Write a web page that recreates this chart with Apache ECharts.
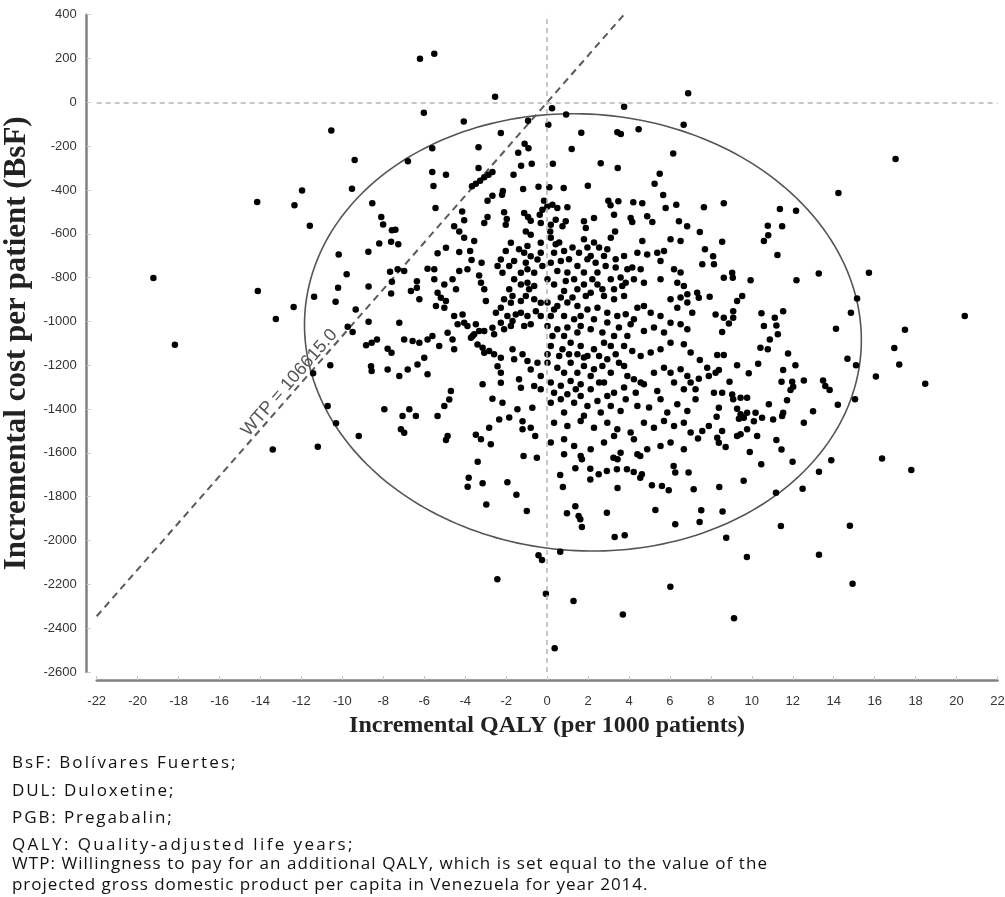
<!DOCTYPE html>
<html>
<head>
<meta charset="utf-8">
<script src="https://cdn.jsdelivr.net/npm/echarts@6/dist/echarts.min.js"></script>
<style>
  html, body { margin: 0; padding: 0; background: #fff; }
  #chart { position: absolute; left: 0; top: 0; width: 1005px; height: 897px; }
  .note { position: absolute; left: 12px; font-family: "Open Sans", sans-serif; font-size: 17px; color: #111; white-space: nowrap; line-height: 20px; }
</style>
</head>
<body>
<div id="chart"></div>
<div class="note" style="top:752px; letter-spacing:2.1px">BsF: Bolívares Fuertes;</div>
<div class="note" style="top:780px; letter-spacing:1.9px">DUL: Duloxetine;</div>
<div class="note" style="top:807px; letter-spacing:1.9px">PGB: Pregabalin;</div>
<div class="note" style="top:834px; letter-spacing:2.4px">QALY: Quality-adjusted life years;</div>
<div class="note" style="top:853px; letter-spacing:1.05px">WTP: Willingness to pay for an additional QALY, which is set equal to the value of the</div>
<div class="note" style="top:874px; letter-spacing:0.95px">projected gross domestic product per capita in Venezuela for year 2014.</div>
<script>
// ---- data: [incremental QALY per 1000 patients, incremental cost per patient (BsF)] ----
const pointsTopLeft = [[-10.54,-128],[-9.4,-263],[-9.53,-394],[-11.97,-402],[-14.16,-455],[-12.34,-470],[-11.59,-563],[-8.54,-461],[-8.1,-523],[-8.01,-557],[-7.58,-584]];
const pointsTopCenter = [[-6.21,199],[-5.51,222],[-2.54,26],[6.89,42],[-6.02,-47],[0.24,-27],[0.93,-55],[3.76,-20],[-4.07,-88],[-0.93,-84],[0.06,-102],[-2.26,-140],[1.67,-139],[3.43,-136],[3.6,-145],[4.47,-123],[6.67,-102],[-5.61,-210],[-3.35,-205],[-1.1,-189],[-0.91,-210],[-1.41,-230],[1.2,-213],[6.16,-233],[-6.8,-269],[-1.27,-289],[-0.75,-280],[0.28,-280],[2.62,-278],[3.45,-300],[-5.61,-318],[-4.94,-330],[-3.35,-300],[-2.67,-318],[-2.86,-330],[-3.07,-342],[-3.27,-358],[-3.48,-372],[-3.67,-383],[-1.64,-330],[5.5,-326],[-5.55,-382],[-1.17,-396],[-0.42,-385],[0.11,-388],[0.81,-391],[1.99,-381],[5.25,-372],[-2.16,-405],[-2.2,-422],[-2.67,-426],[-2.91,-449],[5.67,-423],[-5.45,-482],[-4.15,-498],[-0.15,-449],[0.01,-475],[0.26,-467],[0.5,-482],[-0.23,-490],[0.99,-479],[2.99,-449],[3.1,-470],[3.48,-452],[4.21,-456],[4.65,-460],[5.79,-482],[6.31,-467],[-4.05,-538],[-4.54,-566],[-4.29,-589],[-2.91,-523],[-3.07,-551],[-2.1,-502],[-1.97,-533],[-2.02,-559],[-1.12,-505],[-0.93,-523],[-0.8,-540],[-1.04,-589],[-0.8,-604],[-0.36,-513],[-0.31,-551],[0.18,-559],[0.42,-536],[0.15,-589],[0.75,-566],[0.91,-543],[1.8,-543],[1.89,-574],[2.29,-528],[3.27,-513],[3.32,-589],[4.08,-528],[4.16,-546],[4.89,-520],[5.14,-546],[6.44,-543],[6.84,-566],[-7.41,-581]];
const pointsTopRight = [[17.02,-259],[14.23,-414],[7.66,-479],[8.63,-460],[11.37,-487],[12.16,-495],[10.78,-563],[11.48,-566],[7.46,-592],[10.8,-607]];
const pointsMidLeft = [[-19.23,-802],[-18.18,-1106],[-14.13,-861],[-13.25,-989],[-12.38,-934],[-11.38,-887],[-10.18,-694],[-9.79,-785],[-10.21,-846],[-10.33,-910],[-9.35,-945],[-8.73,-682],[-8.2,-644],[-7.62,-636],[-8.72,-840],[-7.67,-773],[-7.58,-819],[-7.62,-872],[-8.72,-1001],[-9.74,-1024],[-9.5,-1048],[-8.84,-1109],[-8.57,-1097],[-8.31,-1082],[-7.79,-1125],[-7.6,-1143],[-8.6,-1204],[-8.57,-1226],[-7.79,-1219],[-10.59,-1200],[-11.43,-1237],[-10.72,-1386],[-10.31,-1465],[-9.2,-1523],[-7.95,-1401],[-13.4,-1584],[-11.2,-1572]];
const pointsCoreLeft = [[-7.27,-648],[-5.35,-689],[-4.94,-664],[-4.29,-683],[-3.76,-679],[-3.56,-633],[-4.05,-618],[-3.69,-720],[-3.2,-732],[-7.3,-762],[-6.98,-770],[-5.84,-760],[-5.51,-762],[-4.29,-770],[-3.89,-762],[-6.36,-816],[-5.51,-808],[-5.02,-831],[-4.62,-808],[-4.45,-853],[-3.32,-790],[-3.23,-823],[-3.07,-853],[-2.99,-907],[-6.65,-861],[-6.36,-846],[-6.24,-899],[-5.35,-869],[-5.19,-892],[-4.94,-907],[-5.43,-930],[-5.02,-937],[-4.54,-975],[-4.13,-968],[-4.05,-1006],[-4.37,-1013],[-3.89,-1021],[-3.48,-1013],[-3.32,-1044],[-3.56,-1059],[-3.72,-1074],[-3.07,-1044],[-2.67,-1029],[-2.59,-1059],[-2.26,-1006],[-2.1,-1036],[-1.77,-1021],[-2.5,-960],[-2.26,-937],[-1.94,-975],[-1.69,-998],[-1.53,-968],[-1.77,-915],[-2.1,-899],[-1.28,-960],[-0.96,-975],[-0.8,-1013],[-1.12,-1021],[-0.55,-953],[-0.31,-975],[-1.28,-907],[-1.04,-884],[-0.63,-899],[-0.31,-915],[-0.88,-853],[-0.63,-838],[-0.96,-823],[-1.28,-831],[-1.69,-884],[-1.85,-853],[-1.61,-808],[-1.28,-778],[-0.96,-762],[-0.63,-778],[-0.23,-747],[-0.47,-717],[-0.8,-702],[-1.12,-686],[-1.37,-671],[-1.77,-641],[-2.02,-679],[-2.26,-717],[-2.42,-747],[-1.85,-747],[-2.18,-778],[-1.61,-724],[-1.04,-732],[-0.31,-686],[-0.31,-641],[-0.96,-656],[-7.22,-1006],[-6.98,-1082],[-6.57,-1089],[-6.24,-1097],[-5.84,-1082],[-5.6,-1067],[-5.27,-1112],[-4.86,-1052],[-4.62,-1082],[-4.54,-1127],[-3.64,-1067],[-3.4,-1105],[-3.15,-1120],[-3.07,-1143],[-2.83,-1135],[-2.59,-1150],[-6.0,-1166],[-6.33,-1196],[-6.81,-1219],[-7.22,-1249],[-5.84,-1241],[-2.26,-1166],[-2.42,-1204],[-2.26,-1234],[-2.26,-1280],[-1.69,-1127],[-1.61,-1173],[-1.2,-1150],[-0.96,-1181],[-1.37,-1264],[-1.28,-1303],[-0.8,-1219],[-0.47,-1188],[-0.31,-1249],[-0.63,-1295],[-0.31,-1310],[-3.15,-1287],[-4.7,-1318],[-4.78,-1356],[-5.02,-1386],[-5.35,-1432],[-4.86,-1523],[-4.94,-1541],[-7.06,-1432],[-6.73,-1401],[-6.41,-1432],[-7.14,-1492],[-6.98,-1508],[-2.67,-1353],[-2.18,-1371],[-1.45,-1401],[-1.85,-1439],[-2.34,-1447],[-1.2,-1455],[-0.8,-1485],[-0.72,-1394],[-1.2,-1492],[-3.48,-1517],[-3.23,-1538],[-2.83,-1485],[-2.75,-1561],[-0.58,-1523]];
const pointsCoreRight = [[0.18,-618],[0.59,-640],[1.80,-625],[2.29,-640],[2.54,-663],[3.11,-618],[4.65,-633],[6.03,-625],[6.52,-633],[0.34,-686],[0.83,-678],[1.56,-686],[2.13,-701],[2.78,-701],[4.41,-686],[4.89,-694],[5.38,-686],[5.71,-678],[0.18,-732],[0.67,-724],[1.07,-716],[1.48,-747],[1.97,-716],[2.37,-732],[2.86,-747],[3.35,-716],[3.35,-754],[4.16,-754],[4.57,-762],[5.54,-724],[6.20,-762],[6.52,-777],[0.50,-770],[0.99,-777],[1.80,-777],[2.46,-777],[0.02,-808],[0.34,-831],[0.91,-815],[1.32,-808],[1.80,-831],[2.21,-808],[2.70,-853],[3.27,-853],[3.59,-800],[3.84,-823],[4.24,-808],[4.73,-823],[5.54,-808],[6.36,-823],[6.68,-838],[0.83,-861],[1.48,-853],[2.13,-869],[2.78,-884],[3.27,-899],[3.76,-884],[6.03,-899],[6.52,-891],[6.85,-876],[0.02,-914],[0.50,-929],[0.99,-914],[1.48,-929],[1.97,-945],[2.46,-937],[2.94,-960],[3.43,-975],[3.84,-967],[4.41,-937],[4.73,-929],[4.24,-990],[5.06,-960],[5.54,-975],[6.36,-937],[6.85,-914],[7.09,-960],[0.18,-975],[0.83,-975],[1.32,-990],[0.02,-1021],[0.50,-1036],[0.99,-1028],[1.64,-1021],[2.13,-1036],[2.70,-1051],[3.27,-1066],[4.08,-1013],[4.73,-1044],[5.22,-1028],[5.71,-1051],[6.03,-1006],[6.52,-1013],[6.85,-1036],[0.26,-1066],[0.83,-1066],[1.48,-1051],[0.18,-1112],[0.75,-1127],[1.15,-1097],[1.64,-1112],[2.29,-1127],[2.78,-1097],[3.35,-1150],[3.76,-1112],[4.16,-1135],[4.57,-1158],[5.06,-1142],[5.54,-1127],[6.03,-1097],[6.68,-1104],[7.01,-1142],[0.02,-1150],[1.48,-1150],[1.97,-1158],[0.02,-1188],[0.50,-1211],[1.15,-1188],[1.80,-1203],[2.29,-1218],[2.70,-1203],[3.11,-1234],[3.76,-1203],[4.24,-1264],[4.57,-1279],[5.22,-1234],[5.71,-1211],[6.03,-1234],[6.52,-1218],[6.85,-1249],[0.83,-1234],[1.48,-1234],[2.13,-1249],[0.18,-1279],[0.67,-1294],[1.15,-1272],[1.64,-1287],[2.13,-1310],[2.78,-1279],[3.27,-1325],[3.76,-1302],[4.33,-1325],[4.73,-1287],[5.38,-1317],[6.20,-1279],[6.68,-1310],[7.01,-1279],[0.34,-1325],[0.99,-1332],[1.64,-1340],[0.18,-1371],[0.67,-1355],[1.32,-1371],[1.97,-1386],[2.46,-1363],[3.11,-1386],[3.59,-1409],[4.41,-1386],[4.98,-1393],[5.54,-1355],[5.87,-1416],[6.36,-1378],[6.85,-1409],[0.83,-1416],[1.80,-1431],[2.62,-1416],[0.34,-1462],[0.99,-1477],[1.64,-1454],[2.29,-1485],[2.94,-1462],[3.43,-1492],[4.08,-1507],[4.73,-1462],[5.22,-1485],[5.71,-1454],[6.20,-1477],[6.68,-1462],[7.01,-1507],[0.18,-1553],[0.83,-1538],[1.32,-1568],[2.13,-1583],[2.78,-1553],[3.27,-1523],[4.24,-1538],[4.89,-1583],[5.54,-1568],[6.03,-1553],[6.68,-1583],[0.83,-1606],[1.64,-1614],[3.59,-1599],[4.41,-1606],[0.42,-648],[1.24,-663],[1.97,-663],[2.94,-671],[3.76,-701],[3.92,-762],[3.67,-838],[3.11,-808],[2.46,-831],[1.89,-884],[1.24,-891],[0.67,-891],[0.34,-945],[1.64,-975],[2.29,-990],[2.94,-1005],[3.51,-1028],[3.92,-1066],[3.11,-1112],[2.54,-1158],[1.80,-1165],[1.07,-1150],[0.59,-1158],[2.94,-1173],[3.51,-1188],[3.92,-1249],[2.54,-1279],[1.40,-1310],[2.94,-1340],[3.84,-1355]];
const pointsMidRight = [[8.55,-636],[10.59,-633],[7.71,-671],[8.11,-702],[7.58,-739],[8.15,-739],[11.25,-697],[13.27,-781],[15.72,-778],[12.18,-812],[8.63,-801],[9.04,-778],[9.07,-801],[9.94,-812],[7.33,-869],[7.41,-892],[7.94,-887],[9.28,-907],[9.53,-884],[15.14,-895],[8.23,-968],[8.63,-983],[8.88,-1009],[9.09,-953],[9.09,-983],[8.55,-1048],[10.47,-963],[11.12,-983],[11.53,-953],[10.59,-1021],[11.2,-1018],[11.27,-1059],[10.88,-1082],[10.42,-1120],[10.78,-1127],[14.84,-960],[14.11,-1033],[17.48,-1038],[20.4,-975],[16.96,-1121],[17.2,-1196],[18.47,-1284],[16.06,-1251],[14.67,-1170],[15.09,-1200],[15.04,-1355],[14.2,-1380],[11.77,-1146],[12.13,-1200],[11.53,-1222],[12.54,-1269],[11.45,-1275],[11.97,-1275],[12.02,-1298],[11.89,-1313],[13.48,-1269],[13.59,-1295],[13.8,-1313],[11.72,-1360],[10.83,-1378],[12.99,-1410],[12.54,-1462],[11.53,-1417],[11.48,-1432],[11.04,-1447],[10.31,-1193],[9.85,-1237],[9.28,-1200],[8.91,-1275],[8.31,-1153],[8.63,-1153],[7.46,-1176],[7.82,-1211],[7.9,-1249],[8.23,-1234],[8.39,-1222],[7.41,-1261],[7.25,-1310],[7.25,-1355],[8.15,-1325],[8.55,-1325],[9.04,-1333],[9.09,-1355],[9.45,-1348],[9.77,-1348],[8.39,-1394],[9.28,-1398],[8.28,-1435],[9.45,-1424],[9.61,-1440],[9.37,-1444],[9.77,-1417],[10.18,-1417],[10.5,-1440],[10.1,-1455],[7.9,-1477],[7.58,-1500],[7.37,-1534],[8.55,-1500],[8.31,-1531],[8.39,-1554],[8.72,-1573],[9.28,-1523],[9.45,-1515],[9.77,-1492],[10.26,-1523],[11.2,-1541],[11.45,-1584],[9.9,-1596]];
const pointsBottomCenter = [[-3.39,-1640],[-3.83,-1713],[-3.88,-1754],[-3.15,-1739],[-1.94,-1734],[-1.5,-1791],[-2.97,-1835],[-0.99,-1865],[-0.5,-1622],[-1.15,-1614],[0.64,-1701],[0.77,-1756],[1.38,-1670],[2.11,-1672],[2.11,-1721],[2.52,-1698],[2.92,-1683],[3.41,-1675],[3.44,-1629],[3.24,-1622],[1.7,-1629],[3.9,-1675],[4.23,-1687],[4.63,-1698],[4.55,-1713],[4.55,-1614],[6.18,-1660],[6.26,-1690],[6.91,-1690],[5.12,-1748],[5.61,-1751],[5.94,-1771],[3.44,-1760],[0.97,-1876],[1.38,-1843],[1.54,-1888],[1.7,-1938],[1.62,-1903],[2.92,-1873],[5.29,-1861],[6.26,-1926],[3.3,-1984],[3.79,-1976],[0.64,-2051],[-0.42,-2067],[-0.25,-2089],[-2.43,-2177],[-0.06,-2243],[1.29,-2276],[3.7,-2337],[6.02,-2211],[0.37,-2492]];
const pointsBottomRight = [[10.46,-1652],[11.99,-1640],[13.88,-1634],[16.36,-1625],[17.79,-1678],[13.28,-1686],[9.6,-1727],[8.41,-1756],[7.16,-1766],[11.18,-1782],[12.48,-1764],[7.53,-1862],[8.57,-1867],[7.45,-1915],[11.42,-1934],[14.79,-1932],[8.75,-1987],[9.76,-2075],[13.28,-2065],[14.92,-2197],[9.13,-2355]];

// axis ticks
const xMin = -22, xMax = 22, xStep = 2;
const yMin = -2600, yMax = 400, yStep = 200;

// willingness-to-pay threshold (BsF per QALY) and the ellipse
const WTP = 106615;
const wtpLabel = 'WTP = 106615.0';
const ellipse = { cx: 1.75, cy: -1050, rx: 13.6, ry: 998, tilt: 0.035 };

const allPoints = [].concat(pointsTopLeft, pointsTopCenter, pointsTopRight, pointsMidLeft,
  pointsCoreLeft, pointsCoreRight, pointsMidRight, pointsBottomCenter, pointsBottomRight);

const slope = WTP / 1000; // cost per (1/1000 QALY)
const wtpLine = [[xMin, xMin * slope], [yMax / slope, yMax]];

const chart = echarts.init(document.getElementById('chart'));
const tickFont = '"Liberation Sans", Arial, sans-serif';
const titleFont = '"Liberation Serif", "Times New Roman", serif';

chart.setOption({
  animation: false,
  grid: { left: 96.7, right: 7.5, top: 14.7, bottom: 225, containLabel: false, outerBoundsMode: 'none' },
  xAxis: {
    type: 'value', min: xMin, max: xMax, interval: xStep, offset: 8,
    axisLine: { show: true, onZero: false, lineStyle: { color: '#808080', width: 2.5 } },
    axisTick: { show: true, inside: true, length: 4, lineStyle: { color: '#c8c8c8' } },
    axisLabel: { color: '#333', fontSize: 13, fontFamily: tickFont, margin: 15, formatter: v => String(v) },
    splitLine: { show: false },
    name: 'Incremental QALY (per 1000 patients)', nameLocation: 'middle', nameGap: 34,
    nameTextStyle: { fontFamily: titleFont, fontWeight: 'bold', fontSize: 24, color: '#222' }
  },
  yAxis: {
    type: 'value', min: yMin, max: yMax, interval: yStep, offset: 10,
    axisLine: { show: true, onZero: false, lineStyle: { color: '#808080', width: 2.5 } },
    axisTick: { show: true, inside: true, length: 4, lineStyle: { color: '#c8c8c8' } },
    axisLabel: { color: '#333', fontSize: 13, fontFamily: tickFont, margin: 10, formatter: v => String(v) },
    splitLine: { show: false },
    name: 'Incremental cost per patient (BsF)', nameLocation: 'middle', nameGap: 50,
    nameTextStyle: { fontFamily: titleFont, fontWeight: 'bold', fontSize: 31, color: '#222' }
  },
  series: [
    {
      type: 'line', data: wtpLine, symbol: 'none', silent: true, z: 1,
      lineStyle: { color: '#5a5a5a', width: 2, type: [7, 5] }
    },
    {
      type: 'custom', silent: true, z: 2, data: [[ellipse.cx, ellipse.cy]],
      encode: { x: 0, y: 1 },
      renderItem: function (params, api) {
        const pts = [];
        for (let i = 0; i < 240; i++) {
          const t = i / 240 * Math.PI * 2;
          const x = ellipse.cx + ellipse.rx * Math.cos(t);
          const y = ellipse.cy + ellipse.ry * Math.sin(t - ellipse.tilt);
          pts.push(api.coord([x, y]));
        }
        return { type: 'polygon', shape: { points: pts }, style: { fill: 'transparent', stroke: '#555', lineWidth: 1.6 } };
      }
    },
    {
      type: 'scatter', data: allPoints, symbol: 'circle', symbolSize: 6.5, z: 3,
      itemStyle: { color: '#000', opacity: 1 },
      markLine: {
        silent: true, symbol: 'none', label: { show: false },
        lineStyle: { color: '#b4b4b4', width: 1.5, type: [5, 4] },
        data: [{ xAxis: 0 }, { yAxis: 0 }]
      }
    }
  ]
});

// WTP label laid along the threshold line
const p1 = chart.convertToPixel({ gridIndex: 0 }, wtpLine[0]);
const p2 = chart.convertToPixel({ gridIndex: 0 }, wtpLine[1]);
const ang = Math.atan2(-(p2[1] - p1[1]), p2[0] - p1[0]);
const anchor = chart.convertToPixel({ gridIndex: 0 }, [-12.26, -12.26 * slope]);
chart.setOption({
  graphic: [{
    type: 'text', x: anchor[0], y: anchor[1], rotation: ang, z: 10,
    style: { text: wtpLabel, fill: '#555', font: '18px "Liberation Sans", Arial, sans-serif', align: 'center', verticalAlign: 'bottom' }
  }]
});
</script>
</body>
</html>
